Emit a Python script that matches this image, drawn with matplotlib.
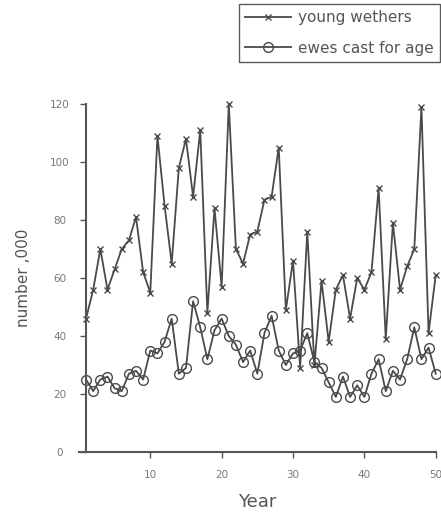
import matplotlib
matplotlib.use("Agg")
import matplotlib.pyplot as plt
import numpy as np

plt.rcParams['font.family'] = ['DejaVu Sans']

years = list(range(1, 51))
young_wethers = [46, 56, 70, 56, 63, 70, 73, 81, 62, 55,
                 109, 85, 65, 98, 108, 88, 111, 48, 84, 57,
                 120, 70, 65, 75, 76, 87, 88, 105, 49, 66,
                 29, 76, 30, 59, 38, 56, 61, 46, 60, 56,
                 62, 91, 39, 79, 56, 64, 70, 119, 41, 61]
ewes_cast = [25, 21, 25, 26, 22, 21, 27, 28, 25, 35,
             34, 38, 46, 27, 29, 52, 43, 32, 42, 46,
             40, 37, 31, 35, 27, 41, 47, 35, 30, 34,
             35, 41, 31, 29, 24, 19, 26, 19, 23, 19,
             27, 32, 21, 28, 25, 32, 43, 32, 36, 27]
series_names = ["young wethers", "ewes cast for age"]
x_ticks = [10, 20, 30, 40, 50]
y_ticks = [0, 20, 40, 60, 80, 100, 120]

fig = plt.figure(figsize=(4.41, 5.14), dpi=100)
ax = fig.add_axes([0.179, 0.1206, 0.809, 0.677])

line_col = '#4a4a4a'
ax.plot(years, young_wethers, color=line_col, lw=1.3, marker='x', ms=5,
        mew=1.0, label=series_names[0], clip_on=False)
ax.plot(years, ewes_cast, color=line_col, lw=1.3, marker='o', ms=7,
        mfc='none', mec=line_col, mew=1.0, label=series_names[1], clip_on=False)

ax.set_xlim(0, 50)
ax.set_ylim(0, 120)
ax.spines['top'].set_visible(False)
ax.spines['right'].set_visible(False)
ax.spines['left'].set_position(('data', 1))
for s in ['left', 'bottom']:
    ax.spines[s].set_color('#555555')
    ax.spines[s].set_linewidth(1.5)

ax.set_xticks(x_ticks)
ax.set_yticks(y_ticks)
ax.tick_params(axis='both', direction='out', length=4, width=1, color='#555555',
               labelsize=7.5, labelcolor='#777777')
ax.tick_params(axis='x', pad=9)
ax.tick_params(axis='y', pad=15)
for lab in ax.get_yticklabels():
    lab.set_horizontalalignment('center')

ax.set_xlabel("Year", fontsize=13, color='#555555', labelpad=9)
ax.set_ylabel("number ,000", fontsize=11, color='#555555')
ax.yaxis.set_label_coords(-0.135, 0.5)

leg = fig.legend(loc='upper right', bbox_to_anchor=(0.997, 0.992),
                 fontsize=11, frameon=True, fancybox=False, handlelength=3.0,
                 borderpad=0.4, labelspacing=1.0, handletextpad=0.45,
                 borderaxespad=0.0)
leg.get_frame().set_edgecolor('#333333')
leg.get_frame().set_linewidth(1.0)
for t in leg.get_texts():
    t.set_color('#555555')

fig.savefig("out.png", dpi=100)
